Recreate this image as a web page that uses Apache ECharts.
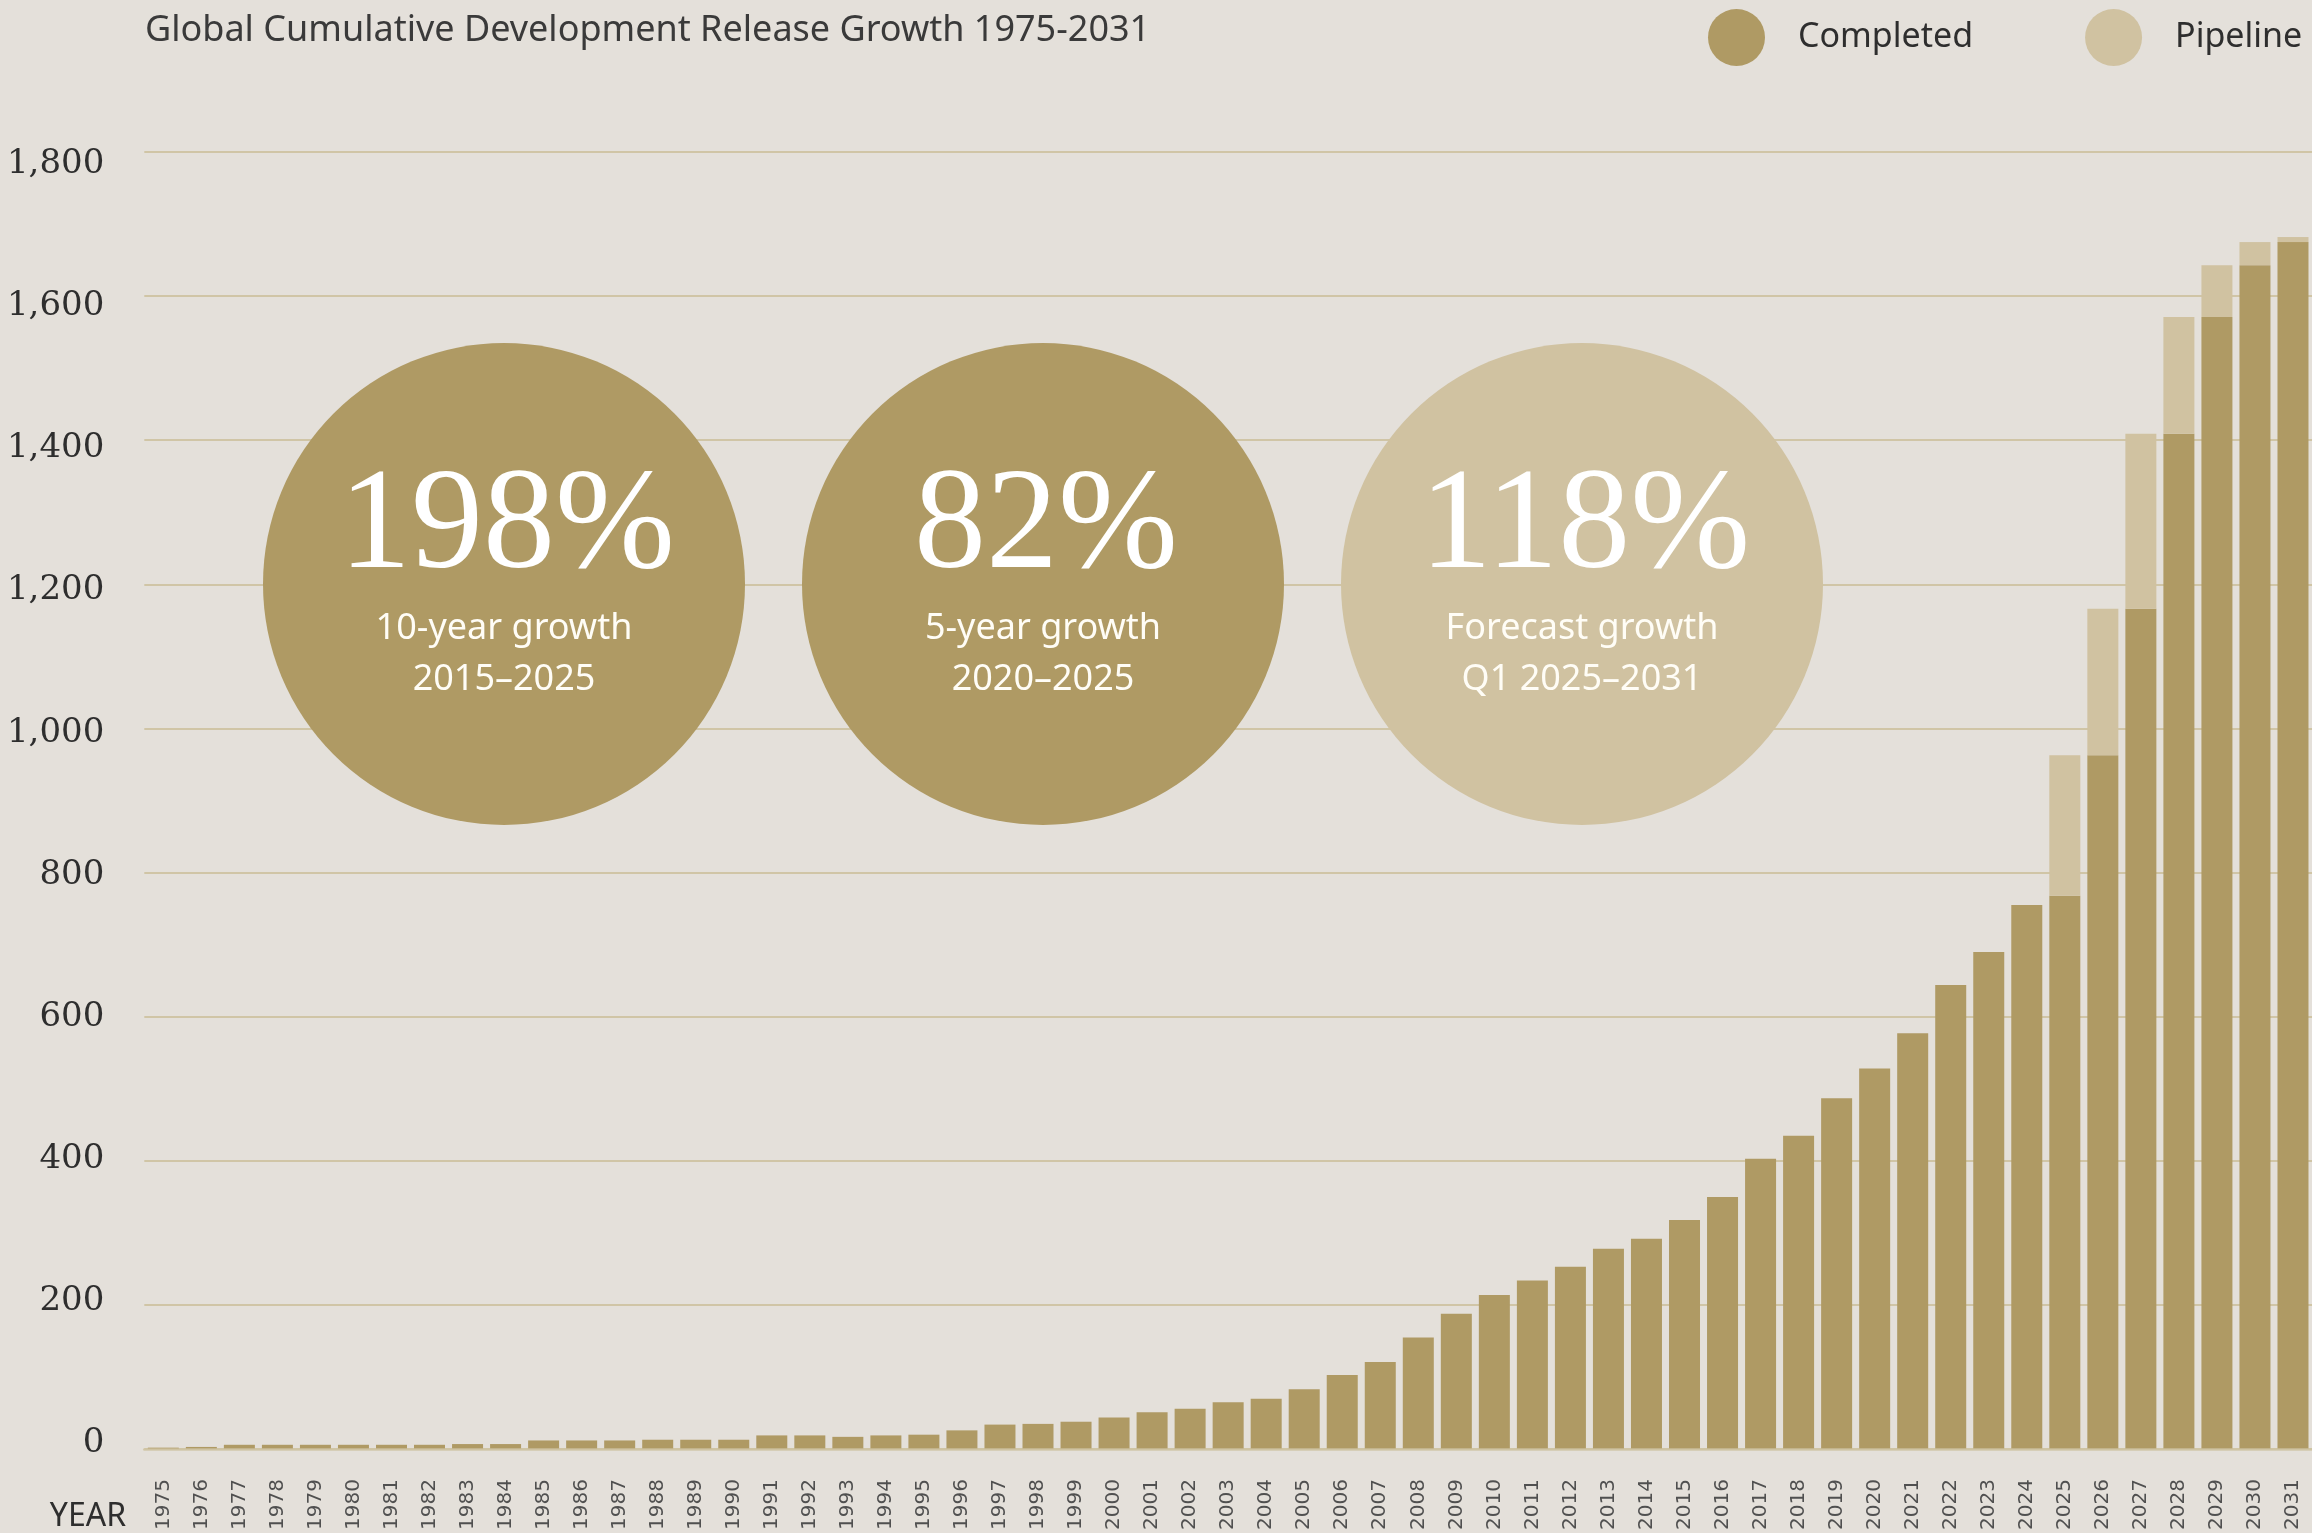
<!DOCTYPE html>
<html>
<head>
<meta charset="utf-8">
<script src="https://cdn.jsdelivr.net/npm/echarts@6/dist/echarts.min.js"></script>
<style>
html,body{margin:0;padding:0;background:#E4E0DA;}
#chart{width:2312px;height:1533px;}
</style>
</head>
<body>
<div id="chart"></div>
<script>
// ---- data ----
const years = ['1975','1976','1977','1978','1979','1980','1981','1982','1983','1984','1985','1986','1987','1988','1989','1990','1991','1992','1993','1994','1995','1996','1997','1998','1999','2000','2001','2002','2003','2004','2005','2006','2007','2008','2009','2010','2011','2012','2013','2014','2015','2016','2017','2018','2019','2020','2021','2022','2023','2024','2025','2026','2027','2028','2029','2030','2031'];
const completed = [2,3,6,6,6,6,6,6,7,7,12,12,12,13,13,13,19,19,17,19,20,26,34,35,38,44,51,56,65,70,83,103,121,155,188,214,234,253,278,292,318,350,403,435,487,528,577,644,690,755,768,963,1166,1409,1571,1643,1675];
const pipeline = [0,0,0,0,0,0,0,0,0,0,0,0,0,0,0,0,0,0,0,0,0,0,0,0,0,0,0,0,0,0,0,0,0,0,0,0,0,0,0,0,0,0,0,0,0,0,0,0,0,0,195,203,243,162,72,32,7];
const yTickLabels = [0,200,400,600,800,1000,1200,1400,1600,1800];
const seriesNames = ['Completed','Pipeline'];
const statValues = ['198%','82%','118%'];
const statLabels = ['10-year growth','5-year growth','Forecast growth'];
const statPeriods = ['2015\u20132025','2020\u20132025','Q1 2025\u20132031'];
const titleText = 'Global Cumulative Development Release Growth 1975-2031';

// ---- style ----
const C_DONE = '#AF9A64';
const C_PIPE = '#D0C2A1';
const BG = '#E4E0DA';
const statColors = [C_DONE, C_DONE, C_PIPE];
const statCx = [504, 1043, 1582];
const statCy = 584, statR = 241;

const chart = echarts.init(document.getElementById('chart'), null, {renderer:'canvas'});

const graphics = [
  {type:'text', left:145, top:13, z:10,
   style:{text:titleText, font:'36px "Noto Sans"', fill:'#3a3a3a'}},
  {type:'text', x:88, y:1517, z:10,
   style:{text:'YEAR', font:'32px "Noto Sans"', fill:'#2e2e2e', align:'center', verticalAlign:'middle'}}
];
statValues.forEach((v,i)=>{
  graphics.push({type:'circle', z:10, shape:{cx:statCx[i], cy:statCy, r:statR}, style:{fill:statColors[i]}});
  graphics.push({type:'text', z:11, x:statCx[i]+3, y:529,
    style:{text:v, font:'144px "Liberation Serif"', fill:'#ffffff', align:'center', verticalAlign:'middle'}});
  graphics.push({type:'text', z:11, x:statCx[i], y:629,
    style:{text:statLabels[i], font:'36px "Noto Sans"', fill:'#fffdf6', align:'center', verticalAlign:'middle'}});
  graphics.push({type:'text', z:11, x:statCx[i], y:680,
    style:{text:statPeriods[i], font:'36px "Noto Sans"', fill:'#fffdf6', align:'center', verticalAlign:'middle'}});
});

const option = {
  backgroundColor: BG,
  animation: false,
  legend: {
    data: seriesNames,
    left: 1703, top: 4,
    icon: 'circle',
    itemWidth: 57, itemHeight: 57,
    itemGap: 112,
    textStyle: {fontFamily:'Noto Sans', fontSize:34, color:'#2e2e2e', padding:[0,0,0,28]}
  },
  grid: {left:144.3, right:-2.6, top:152, bottom:83.5, containLabel:false},
  xAxis: {
    type:'category', data: years, z: 5,
    axisLine:{show:true, lineStyle:{color:'#CFC3A2', width:2.5, opacity:0.85}},
    axisTick:{show:false},
    axisLabel:{rotate:90, margin:30, fontFamily:'DejaVu Sans', fontSize:20, color:'#505050', interval:0}
  },
  yAxis: [
    {type:'value', min:0, max:1800, interval:200, position:'left',
     axisLine:{show:false}, axisTick:{show:false}, axisLabel:{show:false},
     splitLine:{show:true, lineStyle:{color:'#D0C5A6', width:2}}},
    {type:'value', min:-7.73, max:1816.9, position:'left', offset:0,
     axisLine:{show:false}, axisTick:{show:false}, splitLine:{show:false},
     axisLabel:{show:true, customValues: yTickLabels, margin:40,
       fontFamily:'DejaVu Serif', fontSize:34, color:'#2e2e2e',
       formatter: v => Number(v).toLocaleString('en-US')}}
  ],
  series: [
    {name:seriesNames[0], type:'bar', stack:'total', data:completed, barWidth:31,
     itemStyle:{color:C_DONE}, yAxisIndex:0},
    {name:seriesNames[1], type:'bar', stack:'total', data:pipeline, barWidth:31,
     itemStyle:{color:C_PIPE}, yAxisIndex:0}
  ],
  graphic: graphics
};
chart.setOption(option);
</script>
</body>
</html>
